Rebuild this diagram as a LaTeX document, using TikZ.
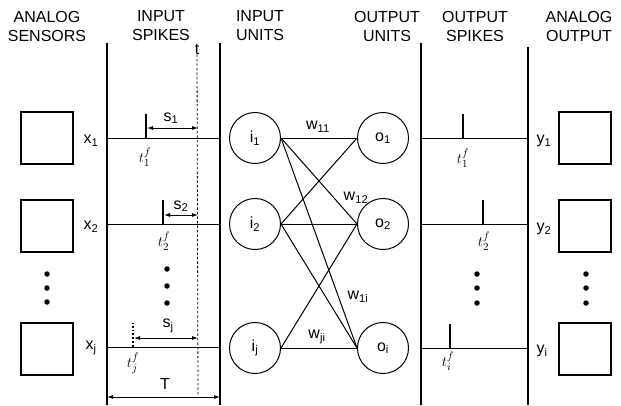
\documentclass[tikz,border=0pt]{standalone}
\usepackage{fontspec}
\setmainfont{Liberation Sans}
\usetikzlibrary{arrows.meta}
\tikzset{
  lbl/.style={font=\fontsize{16}{19}\selectfont, inner sep=0pt},
  head/.style={lbl, align=center},
  unit/.style={draw, circle, minimum size=51pt, inner sep=0pt, line width=1pt, lbl},
  sensor/.style={draw, minimum size=52pt, inner sep=0pt, line width=1.1pt},
  wire/.style={line width=1pt},
  bar/.style={line width=1.7pt},
  spike/.style={line width=1.9pt},
  tf/.style={font=\fontsize{15}{17}\selectfont, inner sep=0pt},
  gap/.style={{Latex[length=6pt,width=4pt]}-{Latex[length=6pt,width=4pt]}, line width=0.9pt},
  dot/.style={circle, fill, inner sep=0pt, minimum size=5.5pt},
}
\begin{document}
\begin{tikzpicture}[x=1pt,y=-1pt]
\useasboundingbox (0,0) rectangle (621,405);
% column headings
\node[head] (hsens) at (47,26) {ANALOG\\SENSORS};
\node[head] (hinsp) at (161,26) {INPUT\\SPIKES};
\node[head] (hinun) at (260,26) {INPUT\\UNITS};
\node[head] (hotun) at (387,26) {OUTPUT\\UNITS};
\node[head] (hotsp) at (475,26) {OUTPUT\\SPIKES};
\node[head] (hanout) at (579,26) {ANALOG\\OUTPUT};
% column borders
\draw[bar] (107,43) -- (107,405);
\draw[bar] (220,43) -- (220,405);
\draw[bar] (421,43) -- (421,405);
\draw[bar] (528,47) -- (528,405);
% analog sensors
\node[sensor] (sx1) at (47,138) {};
\node[sensor] (sx2) at (47,226) {};
\node[sensor] (sxj) at (47,349) {};
\node[lbl] (x1) at (91,141) {x\textsubscript{1}};
\node[lbl] (x2) at (91,227) {x\textsubscript{2}};
\node[lbl] (xj) at (91,348) {x\textsubscript{j}};
\node[dot] (d1) at (47,274) {};
\node[dot] (d2) at (47,288) {};
\node[dot] (d3) at (47,302) {};
% input spikes
\node[lbl] (t) at (197,49) {t};
\coordinate (tend) at (198,396);
\draw[line width=0.8pt, dash pattern=on 2.5pt off 2pt] (t.south) -- (tend);
\coordinate (a1) at (107,138); \coordinate (b1) at (220,138);
\coordinate (a2) at (107,224); \coordinate (b2) at (220,224);
\coordinate (aj) at (107,347); \coordinate (bj) at (220,347);
\draw[wire] (a1) -- (b1);
\draw[wire] (a2) -- (b2);
\draw[wire] (aj) -- (bj);
\coordinate (p1) at (146,138);
\coordinate (p2) at (163,224);
\coordinate (pj) at (133,347);
\draw[spike] (p1) -- ++(0,-24);
\draw[spike] (p2) -- ++(0,-24);
\draw[spike, dotted] (pj) -- ++(0,-24);
\coordinate (s1l) at (147,128); \coordinate (s1r) at (198,128);
\coordinate (s2l) at (164,215); \coordinate (s2r) at (198,215);
\coordinate (sjl) at (134,338); \coordinate (sjr) at (198,338);
\draw[gap] (s1l) -- (s1r);
\draw[gap] (s2l) -- (s2r);
\draw[gap] (sjl) -- (sjr);
\node[lbl] (s1) at (171,118) {s\textsubscript{1}};
\node[lbl] (s2) at (181,206) {s\textsubscript{2}};
\node[lbl] (sj) at (168,326) {s\textsubscript{j}};
\node[tf] (t1) at (145,157) {$t_1^f$};
\node[tf] (t2) at (164,241) {$t_2^f$};
\node[tf] (tj) at (133,363) {$t_j^f$};
\node[dot] (e1) at (167,269) {};
\node[dot] (e2) at (167,286) {};
\node[dot] (e3) at (167,303) {};
\coordinate (T1) at (107,397); \coordinate (T2) at (220,397);
\draw[gap] (T1) -- (T2);
\node[lbl] (T) at (165,384) {T};
% units
\node[unit] (i1) at (255,138) {i\textsubscript{1}};
\node[unit] (i2) at (255,224) {i\textsubscript{2}};
\node[unit] (ij) at (255,348) {i\textsubscript{j}};
\node[unit] (o1) at (383,138) {o\textsubscript{1}};
\node[unit] (o2) at (383,224) {o\textsubscript{2}};
\node[unit] (oi) at (383,348) {o\textsubscript{i}};
\draw[wire] (i1.east) -- (o1.west);
\draw[wire] (i1.east) -- (o2.west);
\draw[wire] (i1.east) -- (oi.west);
\draw[wire] (i2.east) -- (o1.west);
\draw[wire] (i2.east) -- (o2.west);
\draw[wire] (i2.east) -- (oi.west);
\draw[wire] (ij.east) -- (o2.west);
\draw[wire] (ij.east) -- (oi.west);
\node[lbl] (w11) at (318,127) {w\textsubscript{11}};
\node[lbl] (w12) at (356,198) {w\textsubscript{12}};
\node[lbl] (w1i) at (358,297) {w\textsubscript{1i}};
\node[lbl] (wji) at (317,337) {w\textsubscript{ji}};
% output spikes
\coordinate (c1) at (421,138); \coordinate (f1) at (528,138);
\coordinate (c2) at (421,224); \coordinate (f2) at (528,224);
\coordinate (ci) at (421,348); \coordinate (fi) at (528,348);
\draw[wire] (c1) -- (f1);
\draw[wire] (c2) -- (f2);
\draw[wire] (ci) -- (fi);
\coordinate (q1) at (463,138);
\coordinate (q2) at (483,224);
\coordinate (qi) at (450,348);
\draw[spike] (q1) -- ++(0,-24);
\draw[spike] (q2) -- ++(0,-24);
\draw[spike] (qi) -- ++(0,-24);
\node[tf] (u1) at (463,158) {$t_1^f$};
\node[tf] (u2) at (484,241) {$t_2^f$};
\node[tf] (ui) at (448,361) {$t_i^f$};
\node[dot] (g1) at (477,274) {};
\node[dot] (g2) at (477,288) {};
\node[dot] (g3) at (477,303) {};
% analog output
\node[lbl] (y1) at (544,141) {y\textsubscript{1}};
\node[lbl] (y2) at (544,229) {y\textsubscript{2}};
\node[lbl] (yi) at (542,351) {y\textsubscript{i}};
\node[sensor] (oy1) at (585,138) {};
\node[sensor] (oy2) at (585,226) {};
\node[sensor] (oyi) at (585,349) {};
\node[dot] (h1) at (586,274) {};
\node[dot] (h2) at (586,288) {};
\node[dot] (h3) at (586,303) {};
\end{tikzpicture}
\end{document}
